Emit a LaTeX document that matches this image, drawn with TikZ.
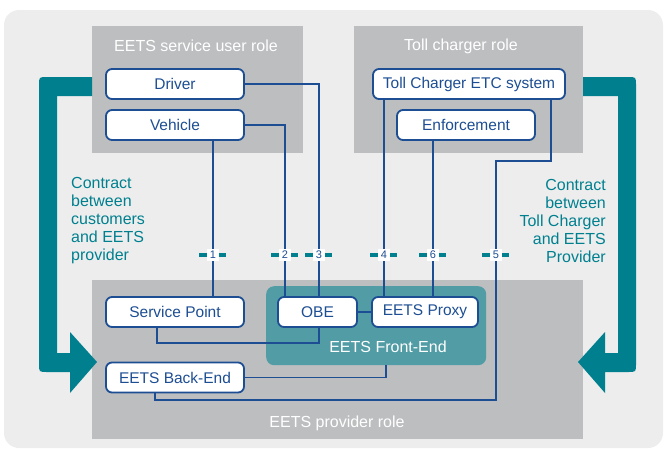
\documentclass[tikz,border=0pt]{standalone}
\usepackage{fontspec}
\setmainfont{Liberation Sans}
\definecolor{bgc}{HTML}{EDEDED}
\definecolor{rolec}{HTML}{BDBEC0}
\definecolor{tealc}{HTML}{00808F}
\definecolor{fec}{HTML}{519CA5}
\definecolor{bluec}{HTML}{1D4E93}
\pgfdeclarelayer{bg}
\pgfdeclarelayer{lines}
\pgfsetlayers{bg,lines,main}
\begin{document}
\begin{tikzpicture}[x=1pt,y=-1pt,
 box/.style={draw=bluec, line width=1.8pt, fill=white, rounded corners=6pt, minimum height=30pt, inner sep=0pt, text=bluec, font=\fontsize{15.5}{17}\selectfont},
 conn/.style={draw=bluec, line width=1.6pt},
 rolebox/.style={fill=rolec, inner sep=0pt, anchor=north west},
 rolelbl/.style={text=white, font=\fontsize{16}{18}\selectfont, inner sep=0pt},
 ctext/.style={text=tealc, font=\fontsize{16}{18}\selectfont, inner sep=0pt},
 numlbl/.style={fill=white, text=bluec, font=\fontsize{11}{11}\selectfont, minimum size=12pt, inner sep=0pt},
 dashc/.style={draw=tealc, line width=4pt}
]
\useasboundingbox (0,0) rectangle (664,450);
\begin{pgfonlayer}{bg}
\fill[bgc, rounded corners=15pt] (4,10) rectangle (663,448);
% role containers
\node[rolebox, minimum width=211pt, minimum height=127pt] (userrole) at (92,26) {};
\node[rolebox, minimum width=229pt, minimum height=127pt] (tollrole) at (354,26) {};
\node[rolebox, minimum width=491pt, minimum height=159pt] (provrole) at (92,280) {};
\node[rolelbl] (userlbl) at (196,46) {EETS service user role};
\node[rolelbl] (tolllbl) at (461,46) {Toll charger role};
\node[rolelbl] (provlbl) at (337,423) {EETS provider role};
% teal contract arrows
\fill[tealc] (92,77) -- (47,77) .. controls (39,77) .. (39,85) -- (39,364) .. controls (39,372) .. (47,372) -- (70,372) -- (70,393) -- (97,362) -- (70,332) -- (70,353) -- (57,353) -- (57,96) -- (92,96) -- cycle;
\fill[tealc] (583,77) -- (628,77) .. controls (636,77) .. (636,85) -- (636,364) .. controls (636,372) .. (628,372) -- (605,372) -- (605,393) -- (578,362) -- (605,332) -- (605,353) -- (618,353) -- (618,96) -- (583,96) -- cycle;
% front end
\node[fill=fec, rounded corners=8pt, minimum width=220pt, minimum height=79pt, inner sep=0pt, anchor=north west] (fe) at (266,286) {};
\node[rolelbl] (felbl) at (388,347) {EETS Front-End};
\end{pgfonlayer}

\node[ctext, align=left, anchor=west] (cl) at (71,221) {Contract\\between\\customers\\and EETS\\provider};
\node[ctext, align=right, anchor=east] (cr) at (606,221) {Contract\\between\\Toll Charger\\and EETS\\Provider};

% nodes
\node[box, minimum width=138pt] (driver) at (175,84) {Driver};
\node[box, minimum width=138pt] (vehicle) at (175,125) {Vehicle};
\node[box, minimum width=192pt] (etc) at (469,84) {Toll Charger ETC system};
\node[box, minimum width=138pt] (enf) at (466,125) {Enforcement};
\node[box, minimum width=138pt] (sp) at (175,312) {Service Point};
\node[box, minimum width=79pt] (obe) at (317.5,312) {OBE};
\node[box, minimum width=106pt] (proxy) at (425,312) {EETS Proxy};
\node[box, minimum width=138pt] (be) at (175,377.5) {EETS Back-End};

% connector reference points
\coordinate (c1) at (213,255);
\coordinate (c2) at (285,255);
\coordinate (c3) at (319,255);
\coordinate (c4) at (384,255);
\coordinate (c6) at (433,255);
\coordinate (c5) at (496,255);
\coordinate (t5) at (551,161);
\coordinate (b5) at (496,400);
\coordinate (febot) at (386,365);

\begin{pgfonlayer}{lines}
\draw[conn] (vehicle.south -| c1) -- (sp.north -| c1);
\draw[conn] (vehicle.east) -| (obe.north -| c2);
\draw[conn] (driver.east) -| (obe.north -| c3);
\draw[conn] (etc.south -| c4) -- (proxy.north -| c4);
\draw[conn] (enf.south -| c6) -- (proxy.north -| c6);
\draw[conn] (etc.south -| t5) -- (t5) -| (b5) -| ([xshift=-20pt]be.south);
\draw[conn] ([xshift=-18pt]sp.south) -- ++(0,15) -| (obe.south -| c3);
\draw[conn] (be.east) -| (fe.south -| febot);
\draw[conn, line width=2.6pt] (obe.east) -- (proxy.west);
\end{pgfonlayer}

% interface labels
\foreach \c/\t in {c1/1,c2/2,c3/3,c4/4,c6/6,c5/5}{
  \draw[dashc] ([xshift=-14pt]\c) -- ([xshift=-6pt]\c);
  \draw[dashc] ([xshift=6pt]\c) -- ([xshift=13pt]\c);
  \node[numlbl] (n\t) at (\c) {\t};
}
\end{tikzpicture}
\end{document}
